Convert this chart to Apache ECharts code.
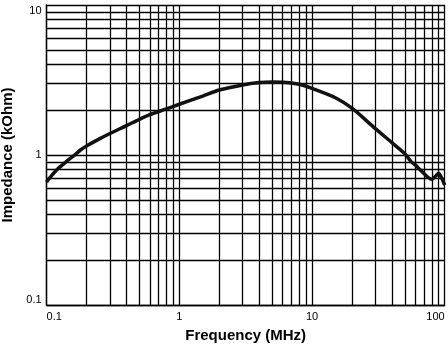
<!DOCTYPE html>
<html>
<head>
<meta charset="utf-8">
<script src="https://cdn.jsdelivr.net/npm/echarts@6/dist/echarts.min.js"></script>
<style>
  html, body { margin: 0; padding: 0; background: #fff; }
  #chart { width: 448px; height: 346px; }
</style>
</head>
<body>
<div id="chart"></div>
<script>
// Impedance vs frequency, log-log
const frequencyMHz = [0.1, 0.105, 0.12, 0.14, 0.165, 0.18, 0.2, 0.25, 0.3, 0.4, 0.5, 0.6, 0.8,
  1, 1.5, 2, 3, 4, 5, 6, 7, 8, 10, 15, 20, 30, 40, 50, 56, 60, 65, 70, 75, 80, 85, 90, 95, 100];
const impedanceKOhm = [0.66, 0.70, 0.80, 0.90, 1.01, 1.08, 1.15, 1.28, 1.39, 1.57, 1.73, 1.86, 2.03,
  2.18, 2.47, 2.71, 2.93, 3.04, 3.07, 3.06, 3.02, 2.96, 2.78, 2.41, 2.05, 1.50, 1.21, 1.02, 0.90, 0.86, 0.80, 0.75, 0.71, 0.69, 0.72, 0.755, 0.70, 0.63];

// minor grid positions within each decade
const minorX = [0.2, 0.3, 0.4, 0.5, 0.6, 0.7, 0.8, 0.9, 2, 3, 4, 5, 6, 7, 8, 9, 20, 30, 40, 50, 60, 70, 80, 90];
const minorY = [0.2, 0.3, 0.4, 0.5, 0.6, 0.7, 0.8, 0.9, 2, 3, 4, 5, 6, 7, 8, 9];

const xRange = [0.1, 100];
const yRange = [0.1, 10];

const gridColor = '#000';
const gridWidth = 1.3;
const font = '"Liberation Sans", Arial, Helvetica, sans-serif';

const chart = echarts.init(document.getElementById('chart'), null, { renderer: 'canvas' });

const minorLines = []
  .concat(minorX.map(v => ({ xAxis: v })))
  .concat(minorY.map(v => ({ yAxis: v })));

chart.setOption({
  animation: false,
  backgroundColor: '#fff',
  grid: { left: 46.6, right: 3.3, top: 5, bottom: 41, containLabel: false, outerBoundsMode: 'none' },
  xAxis: {
    type: 'log',
    logBase: 10,
    min: xRange[0],
    max: xRange[1],
    name: 'Frequency (MHz)',
    nameLocation: 'middle',
    nameGap: 23,
    nameTextStyle: { fontFamily: font, fontSize: 15, fontWeight: 'bold', color: '#000' },
    axisLine: { show: true, lineStyle: { color: gridColor, width: gridWidth } },
    axisTick: { show: false },
    minorTick: { show: false },
    splitLine: { show: true, lineStyle: { color: gridColor, width: gridWidth } },
    axisLabel: {
      fontFamily: font, fontSize: 11, color: '#000', margin: 6,
      alignMinLabel: 'left', alignMaxLabel: 'right',
      formatter: v => String(v)
    }
  },
  yAxis: {
    type: 'log',
    logBase: 10,
    min: yRange[0],
    max: yRange[1],
    name: 'Impedance (kOhm)',
    nameLocation: 'middle',
    nameRotate: 90,
    nameGap: 30,
    nameTextStyle: { fontFamily: font, fontSize: 15, fontWeight: 'bold', color: '#000' },
    axisLine: { show: true, lineStyle: { color: gridColor, width: gridWidth } },
    axisTick: { show: false },
    minorTick: { show: false },
    splitLine: { show: true, lineStyle: { color: gridColor, width: gridWidth } },
    axisLabel: {
      fontFamily: font, fontSize: 11, color: '#000', margin: 5,
      verticalAlignMinLabel: 'bottom', verticalAlignMaxLabel: 'top',
      formatter: v => String(v)
    }
  },
  series: [
    {
      type: 'line',
      data: [],
      silent: true,
      markLine: {
        silent: true,
        symbol: 'none',
        label: { show: false },
        animation: false,
        lineStyle: { color: gridColor, width: gridWidth, type: 'solid' },
        data: minorLines
      }
    },
    {
      type: 'line',
      data: frequencyMHz.map((f, i) => [f, impedanceKOhm[i]]),
      showSymbol: false,
      smooth: 0.3,
      lineStyle: { color: '#111', width: 3.5 },
      z: 5
    }
  ]
});
</script>
</body>
</html>
